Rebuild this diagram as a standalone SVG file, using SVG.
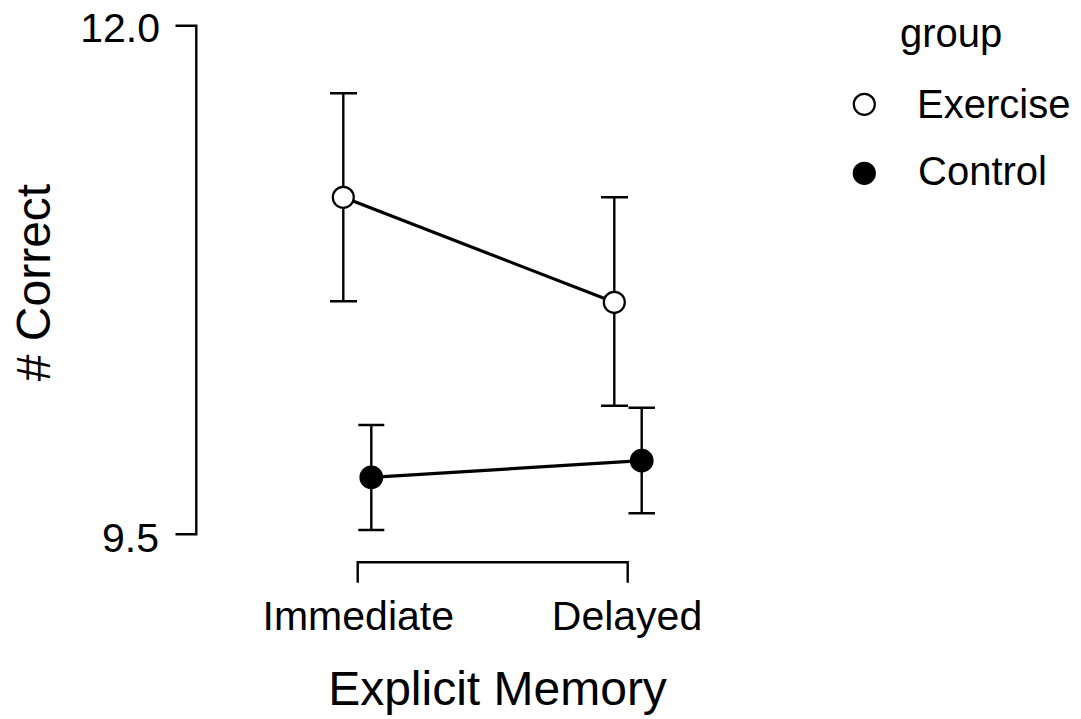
<svg xmlns="http://www.w3.org/2000/svg" width="1081" height="719" viewBox="0 0 1081 719">
<style>
text{font-family:"Liberation Sans",Arial,sans-serif;fill:#000}
.ax{stroke:#000;stroke-width:2.4;fill:none}
.eb{stroke:#000;stroke-width:2.4;fill:none}
.ln{stroke:#000;stroke-width:3.2;fill:none}
.open{fill:#fff;stroke:#000;stroke-width:2.2}
.fill{fill:#000;stroke:#000;stroke-width:2.2}
.tick{font-size:41px}
.title{font-size:48px}
.leg{font-size:40px}
</style>
<rect width="1081" height="719" fill="#fff"/>
<g id="y-axis">
<path class="ax" d="M175.5,25.7H196.3V534.3H175.5"/>
<text class="tick" x="160" y="41.7" text-anchor="end">12.0</text>
<text class="tick" x="159" y="551.5" text-anchor="end">9.5</text>
<text class="title" transform="translate(50,282.5) rotate(-90)" text-anchor="middle"># Correct</text>
</g>
<g id="x-axis">
<path class="ax" d="M357.7,582.7V562.3H627.7V582.7"/>
<text class="tick" x="358.3" y="630" text-anchor="middle">Immediate</text>
<text class="tick" x="627" y="630" text-anchor="middle">Delayed</text>
<text class="title" x="497.5" y="705" text-anchor="middle">Explicit Memory</text>
</g>
<g id="connectors">
<g id="errorbars">
<path class="eb" d="M343.3,93.3V301.3M330,93.3H357M330,301.3H357"/>
<path class="eb" d="M614.3,197.3V405.7M601,197.3H628M601,405.7H628"/>
<path class="eb" d="M371.3,425V530M358.3,425H384.3M358.3,530H384.3"/>
<path class="eb" d="M641.7,407.7V513.3M628.5,407.7H655M628.5,513.3H655"/>
</g>
<line id="line-exercise" class="ln" x1="343.3" y1="197.3" x2="614.3" y2="302.3"/>
<line id="line-control" class="ln" x1="371.3" y1="477.3" x2="641.7" y2="460.7"/>
</g>
<g id="exercise-immediate"><circle class="open" cx="343.3" cy="197.3" r="10.5"/></g>
<g id="exercise-delayed"><circle class="open" cx="614.3" cy="302.3" r="10.5"/></g>
<g id="control-immediate"><circle class="fill" cx="371.3" cy="477.3" r="10.8"/></g>
<g id="control-delayed"><circle class="fill" cx="641.7" cy="460.7" r="10.8"/></g>
<g id="legend">
<text class="leg" x="900" y="46.7">group</text>
<circle class="open" cx="864.3" cy="104.3" r="10.5"/>
<text class="leg" x="917" y="118.3">Exercise</text>
<circle class="fill" cx="864.3" cy="173.3" r="10.5"/>
<text class="leg" x="918" y="185">Control</text>
</g>
</svg>
